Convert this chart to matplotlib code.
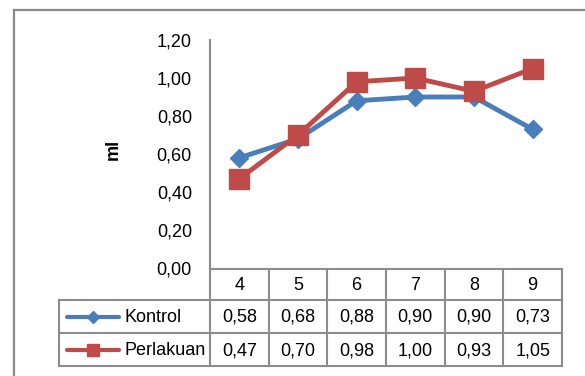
import matplotlib
matplotlib.use("Agg")
import matplotlib.pyplot as plt

plt.rcParams['font.family'] = ['Liberation Sans', 'DejaVu Sans']

minggu = ['4', '5', '6', '7', '8', '9']
kontrol = [0.58, 0.68, 0.88, 0.90, 0.90, 0.73]
perlakuan = [0.47, 0.70, 0.98, 1.00, 0.93, 1.05]
y_ticks = [0.0, 0.2, 0.4, 0.6, 0.8, 1.0, 1.2]

BLUE = '#4A7EBB'
RED = '#BE4B48'
GRID = '#8C8C8C'

W, H = 585, 376
fig = plt.figure(figsize=(W / 100, H / 100), dpi=100)

# plot area in pixel units (left, top, right, bottom)
pl, pt, pr, pb = 210, 40, 562, 268
ax = fig.add_axes([pl / W, 1 - pb / H, (pr - pl) / W, (pb - pt) / H])
xs = list(range(len(minggu)))
ax.plot(xs, kontrol, color=BLUE, lw=3.5, marker='D', ms=9.5, zorder=3)
ax.plot(xs, perlakuan, color=RED, lw=3.5, marker='s', ms=14, zorder=4)
ax.set_xlim(-0.5, len(minggu) - 0.5)
ax.set_ylim(0, 1.2)
ax.set_yticks(y_ticks)
ax.set_yticklabels([('%.2f' % v).replace('.', ',') for v in y_ticks], fontsize=13)
ax.tick_params(axis='y', length=0, pad=13)
ax.set_xticks([])
for s in ['top', 'right', 'bottom']:
    ax.spines[s].set_visible(False)
ax.spines['left'].set_color(GRID)
ax.spines['left'].set_linewidth(1.5)
ax.patch.set_alpha(0)
ax.text(-0.275, 0.52, 'ml', transform=ax.transAxes, rotation=90, fontsize=13,
        fontweight='bold', ha='center', va='center')

# overlay in pixel coordinates for the frame and the data table
ov = fig.add_axes([0, 0, 1, 1], zorder=-1)
ov.set_xlim(0, W)
ov.set_ylim(H, 0)
ov.axis('off')

ov.plot([14, W], [10, 10], color='#8A8A8A', lw=1.6)
ov.plot([14, 14], [10, H], color='#8A8A8A', lw=1.6)

col_w = (pr - pl) / len(minggu)
rows = [269, 300, 333, 366]
leg_l = 59
lw_tab = 1.5
# horizontal lines
ov.plot([pl, pr], [rows[0], rows[0]], color=GRID, lw=lw_tab)
for y in rows[1:]:
    ov.plot([leg_l, pr], [y, y], color=GRID, lw=lw_tab)
# vertical lines
ov.plot([leg_l, leg_l], [rows[1], rows[3]], color=GRID, lw=lw_tab)
for i in range(len(minggu) + 1):
    x = pl + i * col_w
    ov.plot([x, x], [rows[0], rows[3]], color=GRID, lw=lw_tab)

for i, m in enumerate(minggu):
    cx = pl + (i + 0.5) * col_w
    ov.text(cx, (rows[0] + rows[1]) / 2 + 1, m, fontsize=13, ha='center', va='center')
    ov.text(cx, (rows[1] + rows[2]) / 2 + 1, ('%.2f' % kontrol[i]).replace('.', ','),
            fontsize=13, ha='center', va='center')
    ov.text(cx, (rows[2] + rows[3]) / 2 + 1, ('%.2f' % perlakuan[i]).replace('.', ','),
            fontsize=13, ha='center', va='center')

# legend keys inside the table
for (name, col, mk, ms), r in zip([('Kontrol', BLUE, 'D', 6), ('Perlakuan', RED, 's', 9)], [1, 2]):
    cy = (rows[r] + rows[r + 1]) / 2
    ov.plot([67, 119], [cy, cy], color=col, lw=3, solid_capstyle='round')
    ov.plot([93], [cy], color=col, marker=mk, ms=ms, lw=0)
    ov.text(125, cy + 1, name, fontsize=13, ha='left', va='center')

fig.savefig('out.png', dpi=100)
